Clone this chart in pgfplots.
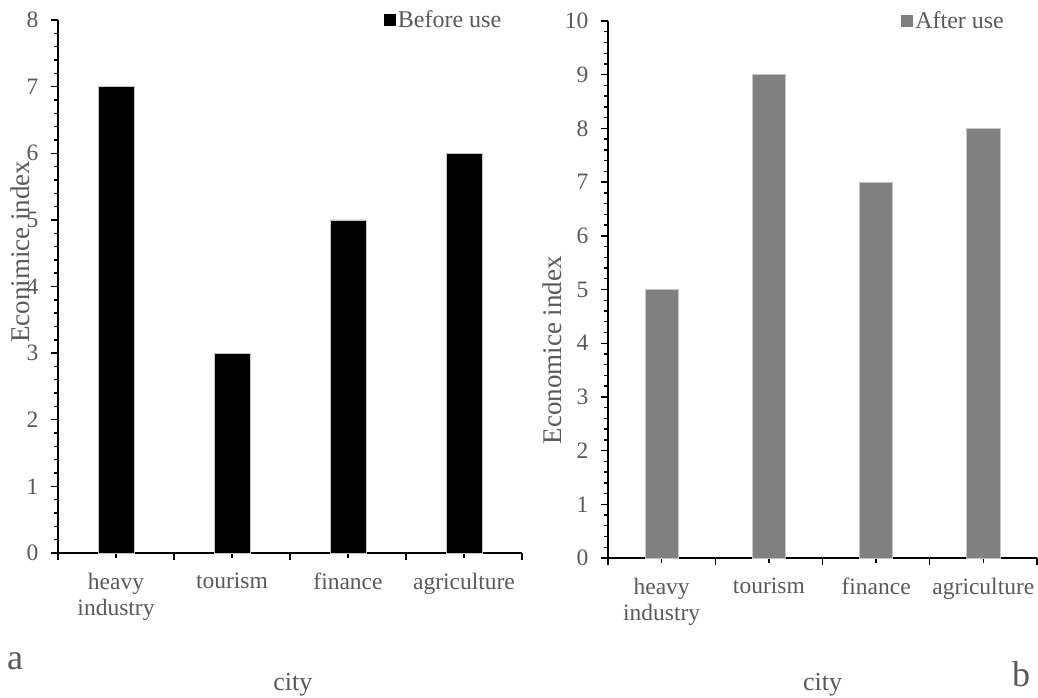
\documentclass[border=0pt]{standalone}
\usepackage{fontspec}
\setmainfont{Liberation Serif}
\usepackage{pgfplots}
\pgfplotsset{compat=1.18}

\definecolor{txt}{HTML}{595959}
\definecolor{bargray}{HTML}{808080}

\pgfplotsset{
  econ/.style={
    scale only axis,
    anchor=south west,
    axis x line=bottom,
    axis y line=left,
    axis line style={-, line width=1.4pt, black},
    tick style={line width=1.4pt, black},
    tick align=outside,
    xmin=-0.5, xmax=3.5, ymin=0,
    xtick={-0.5,0.5,1.5,2.5,3.5},
    xticklabels={},
    extra x ticks={0,1,2,3},
    extra x tick labels={heavy\\industry,tourism,finance,agriculture},
    extra x tick style={major tick length=4.5pt},
    major tick length=7pt,
    minor tick length=4.5pt,
    minor y tick num=4,
    ytick distance=1,
    xticklabel style={align=center, text=txt, font=\fontsize{23.5}{26}\selectfont, yshift=-12pt},
    yticklabel style={text=txt, font=\fontsize{23.5}{26}\selectfont, xshift=-9pt},
    /pgf/number format/assume math mode=true,
    label style={text=txt, font=\fontsize{27}{30}\selectfont},
    legend style={draw=none, fill=none, anchor=east, text=txt,
      font=\fontsize{24}{27}\selectfont, inner sep=0pt,
      legend cell align=left},
    legend image code/.code={\path[##1,draw=none] (-2pt,-6pt) rectangle (10pt,6pt);},
    clip=false,
  }
}

\begin{document}
\begin{tikzpicture}[x=1pt,y=1pt]
\path[use as bounding box] (0,0) rectangle (1038,-697);

% panel a
\begin{axis}[econ,
  at={(58pt,-553pt)},
  width=464pt, height=533pt,
  ymax=8,
  ylabel={Econimice index},
  ylabel style={at={(axis description cs:-0.082,0.565)}, anchor=center},
  xlabel={city},
  xlabel style={at={(axis description cs:0.506,0)}, yshift=-137pt, anchor=base, font=\fontsize{26}{29}\selectfont},
  legend style={at={(axis description cs:0.96,1)}},
]
\addplot[ybar, bar width=0.31, fill=black, draw=gray!45, line width=0.6pt]
  coordinates {(0,7) (1,3) (2,5) (3,6)};
\addlegendentry{Before use}
\end{axis}

% panel b
\begin{axis}[econ,
  at={(608pt,-558pt)},
  width=429pt, height=537pt,
  ymax=10,
  ylabel={Economice index},
  ylabel style={at={(axis description cs:-0.1305,0.387)}, anchor=center},
  xlabel={city},
  xlabel style={at={(axis description cs:0.50,0)}, yshift=-132pt, anchor=base, font=\fontsize{26}{29}\selectfont},
  legend style={at={(axis description cs:0.928,1)}},
]
\addplot[ybar, bar width=0.31, fill=bargray, draw=gray!45, line width=0.6pt]
  coordinates {(0,5) (1,9) (2,7) (3,8)};
\addlegendentry{After use}
\end{axis}

\node[anchor=base west, text=txt, font=\fontsize{36}{40}\selectfont, inner sep=0pt] at (7,-669) {a};
\node[anchor=base west, text=txt, font=\fontsize{36}{40}\selectfont, inner sep=0pt] at (1012,-686) {b};
\end{tikzpicture}
\end{document}
